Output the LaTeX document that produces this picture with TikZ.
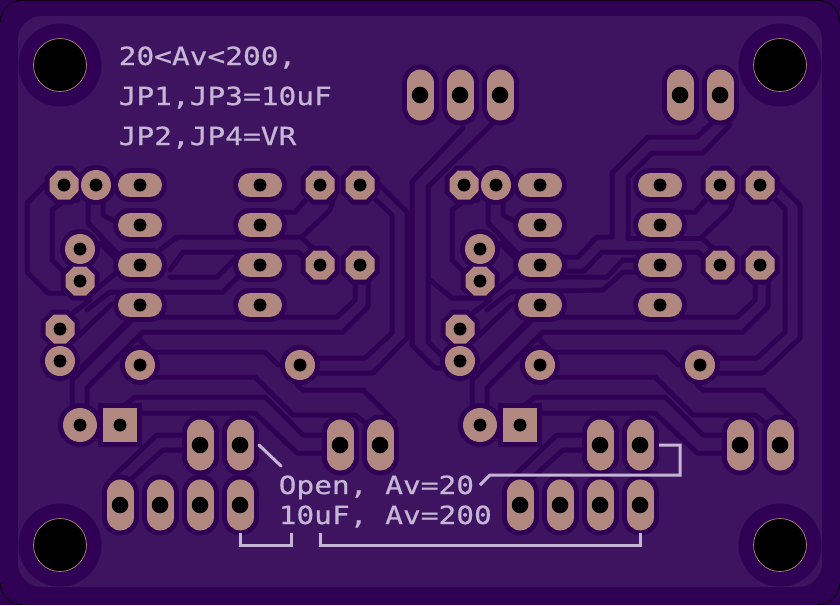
\documentclass[tikz,border=0pt]{standalone}
\usepackage{fontspec}
\newfontfamily\silkfont[FakeStretch=1.18,FakeBold=0.6]{DejaVu Sans Mono}
\definecolor{maskdark}{RGB}{48,0,84}
\definecolor{masklight}{RGB}{62,20,97}
\definecolor{padtan}{RGB}{176,136,128}
\definecolor{silk}{RGB}{198,182,214}
\tikzset{
  x=1pt,y=-1pt,
  gap/.style={draw=maskdark,line width=5pt,line join=round,line cap=round},
  silkline/.style={draw=silk,line width=3pt,line join=miter},
  silktext/.style={text=silk,anchor=base west,inner sep=0pt,font=\silkfont\fontsize{25}{25}\selectfont},
  tan/.style={fill=padtan,draw=none},
  bore/.style={fill=black,draw=none},
  rim/.style={draw=black,line width=0.8pt},
}
% x y
\newcommand{\hovalhalo}[2]{\draw[maskdark,line width=34pt,line cap=round] (#1-10,#2)--(#1+10,#2);}
\newcommand{\hoval}[2]{\draw[padtan,line width=24pt,line cap=round] (#1-10,#2)--(#1+10,#2);\fill[bore] (#1,#2) circle[radius=6.5];}
\newcommand{\vovalhalo}[2]{\draw[maskdark,line width=37pt,line cap=round] (#1,#2-12)--(#1,#2+12);}
\newcommand{\voval}[2]{\draw[padtan,line width=27pt,line cap=round] (#1,#2-12)--(#1,#2+12);\fill[bore] (#1,#2) circle[radius=8.3];}
\newcommand{\rndhalo}[3]{\fill[maskdark] (#1,#2) circle[radius=#3+5];}
\newcommand{\rnd}[3]{\fill[tan] (#1,#2) circle[radius=#3];\fill[bore] (#1,#2) circle[radius=6.5];}
\newcommand{\octshape}[3]{(#1-#3,#2-#3*0.42)--(#1-#3*0.42,#2-#3)--(#1+#3*0.42,#2-#3)--(#1+#3,#2-#3*0.42)--(#1+#3,#2+#3*0.42)--(#1+#3*0.42,#2+#3)--(#1-#3*0.42,#2+#3)--(#1-#3,#2+#3*0.42)--cycle}
\newcommand{\octhalo}[2]{\fill[maskdark] \octshape{#1}{#2}{19.5};}
\newcommand{\oct}[2]{\fill[tan] \octshape{#1}{#2}{14.5};\fill[bore] (#1,#2) circle[radius=6.5];}
% bands common to both halves (left-half coordinates)
\newcommand{\commonbands}{
  \draw[gap] (78,200)--(63,202)--(52,210)--(52,260)--(62,270)--(70,270);
  \draw[gap] (88,197)--(88,223)--(117,253)--(130,258);
  \draw[gap] (103,197)--(103,215)--(118,223);
  \draw[gap] (100,243)--(116,259);
  \draw[gap] (73,313)--(90,300);
  \draw[gap] (73,341)--(112,304);
  \draw[gap] (82,367)--(127,322);
  \draw[gap] (72,410)--(72,380)--(135,317)--(337,317)--(355,300)--(355,280);
  \draw[gap] (87,410)--(87,388)--(143,332)--(343,332)--(368,307)--(368,280);
  \draw[gap] (138,338)--(152,352)--(265,352)--(278,365);
  \draw[gap] (153,377)--(255,377)--(293,415)--(355,415)--(368,425);
  \draw[gap] (100,407)--(122,407)--(135,397)--(265,397)--(303,435)--(325,435);
  \draw[gap] (143,413)--(255,413)--(297,453)--(325,453);
  \draw[gap] (297,385)--(303,390)--(363,390)--(395,422);
  \draw[gap] (113,477)--(157,435)--(187,435);
  \draw[gap] (130,480)--(163,450)--(187,450);
  \draw[gap] (310,195)--(295,212)--(280,212);
  \draw[gap] (302,237)--(330,210)--(335,195);
  \draw[gap] (302,238)--(320,255);
}
\begin{document}
\begin{tikzpicture}
\useasboundingbox (0,0) rectangle (840,605);
\fill[maskdark] (0,0) rectangle (840,605);
\draw[rim] (0.3,22) .. controls (0.3,10) and (10,0.3) .. (22,0.3)--(818,0.3) .. controls (830,0.3) and (839.7,10) .. (839.7,22);
\draw[rim] (0.3,583) .. controls (0.3,595) and (10,604.7) .. (22,604.7);
\draw[rim] (818,604.7) .. controls (830,604.7) and (839.7,595) .. (839.7,583);
\fill[masklight,rounded corners=24pt] (18,16) rectangle (822,587);
% ---- clearance bands
\commonbands
\begin{scope}[xshift=400pt]\commonbands\end{scope}
% left only
\draw[gap] (48,182)--(27,203)--(27,272)--(48,293)--(92,293)--(117,272);
\draw[gap] (87,310)--(110,292)--(223,292)--(238,277);
\draw[gap] (160,250)--(177,237)--(302,237);
\draw[gap] (170,270)--(183,252)--(298,252)--(308,262);
\draw[gap] (170,277)--(217,277)--(237,257);
\draw[gap] (373,178)--(407,212)--(407,338)--(373,373)--(315,373);
\draw[gap] (373,197)--(392,215)--(392,333)--(365,358)--(315,358);
% right only
\draw[gap] (463,128)--(412,182)--(412,345)--(435,368)--(445,368);
\draw[gap] (493,123)--(428,187)--(428,342)--(441,355);
\draw[gap] (430,280)--(452,298)--(487,298)--(517,272);
\draw[gap] (487,310)--(510,292)--(603,290)--(623,272)--(638,272);
\draw[gap] (563,257)--(578,257)--(597,237)--(612,237)--(612,173)--(648,137)--(697,137)--(715,120);
\draw[gap] (628,238)--(628,177)--(652,153)--(703,153)--(730,125);
\draw[gap] (628,238)--(703,238);
\draw[gap] (563,271)--(584,271)--(602,252)--(698,252)--(708,262);
\draw[gap] (520,277)--(607,277)--(623,260)--(640,260);
\draw[gap] (773,178)--(800,205)--(800,338)--(763,373)--(715,373);
\draw[gap] (773,197)--(785,209)--(785,332)--(757,358)--(715,358);
% ---- halos
\foreach \x/\y in {60/65,780/65,60/545,780/545}{\rndhalo{\x}{\y}{36.5}}
\foreach \dx in {0,400}{
  \foreach \x in {140,260}{\foreach \y in {185,225,265,305}{\hovalhalo{\x+\dx}{\y}}}
  \foreach \x/\y in {64/185,320/185,360/185,320/265,360/265,80/281,60/329}{\octhalo{\x+\dx}{\y}}
  \foreach \x/\y in {96/185,80/249,60/361,140/365,300/365}{\rndhalo{\x+\dx}{\y}{15}}
  \rndhalo{80+\dx}{425}{17}
  \fill[maskdark] (98+\dx,403) rectangle (142+\dx,447);
  \foreach \x in {200,240,340,380}{\vovalhalo{\x+\dx}{445}}
  \foreach \x in {120,160,200,240}{\vovalhalo{\x+\dx}{505}}
}
\foreach \x in {420,460,500,680,720}{\vovalhalo{\x}{95}}
% ---- pads
\foreach \x/\y in {60/65,780/65,60/545,780/545}{\fill[bore,draw=padtan,line width=0.7pt] (\x,\y) circle[radius=26.5];}
\foreach \dx in {0,400}{
  \foreach \x in {140,260}{\foreach \y in {185,225,265,305}{\hoval{\x+\dx}{\y}}}
  \foreach \x/\y in {64/185,320/185,360/185,320/265,360/265,80/281,60/329}{\oct{\x+\dx}{\y}}
  \foreach \x/\y in {96/185,80/249,60/361,140/365,300/365}{\rnd{\x+\dx}{\y}{15}}
  \rnd{80+\dx}{425}{17}
  \fill[tan] (103+\dx,408) rectangle (137+\dx,442);
  \fill[bore] (120+\dx,425) circle[radius=6.5];
  \foreach \x in {200,240,340,380}{\voval{\x+\dx}{445}}
  \foreach \x in {120,160,200,240}{\voval{\x+\dx}{505}}
}
\foreach \x in {420,460,500,680,720}{\voval{\x}{95}}
% ---- silk
\draw[silkline,line cap=round] (259,445)--(281,466);
\draw[silkline] (240,533)--(240,545)--(291,545)--(291,533);
\draw[silkline] (320,533)--(320,545)--(640,545)--(640,533);
\draw[silkline] (659,445)--(680,445)--(680,475)--(490,475)--(480,485);
\node[silktext] (t1) at (118.5,65) {20<Av<200,};
\node[silktext] (t2) at (118.5,105) {JP1,JP3=10uF};
\node[silktext] (t3) at (118.5,145) {JP2,JP4=VR};
\node[silktext] (t4) at (278.5,494) {Open, Av=20};
\node[silktext] (t5) at (278.5,524) {10uF, Av=200};
\end{tikzpicture}
\end{document}
